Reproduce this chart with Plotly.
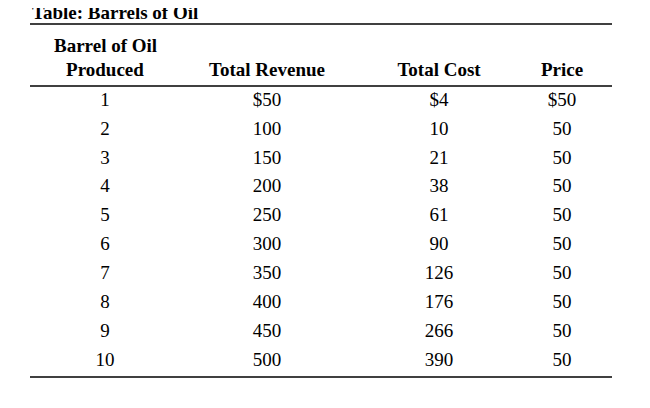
import plotly.graph_objects as go

title = "Table: Barrels of Oil"
headers = ["Produced", "Total Revenue", "Total Cost", "Price"]
header_top = "Barrel of Oil"
produced = ["1", "2", "3", "4", "5", "6", "7", "8", "9", "10"]
revenue = ["$50", "100", "150", "200", "250", "300", "350", "400", "450", "500"]
cost = ["$4", "10", "21", "38", "61", "90", "126", "176", "266", "390"]
price = ["$50", "50", "50", "50", "50", "50", "50", "50", "50", "50"]

col_x = [105, 267, 439, 562]
row_y0, row_dy = 101, 28.9
F = "Liberation Serif"

fig = go.Figure()
ys = [row_y0 + i * row_dy for i in range(len(produced))]
for cx, col in zip(col_x, [produced, revenue, cost, price]):
    fig.add_trace(go.Scatter(x=[cx] * len(col), y=ys, text=col, mode="text",
                             textfont=dict(family=F, size=19, color="black"),
                             hoverinfo="skip", showlegend=False))
fig.add_trace(go.Scatter(x=col_x, y=[71] * 4, text=["<b>%s</b>" % h for h in headers],
                         mode="text", textfont=dict(family=F, size=19, color="black"),
                         hoverinfo="skip", showlegend=False))
fig.add_annotation(x=col_x[0], y=45, text="<b>%s</b>" % header_top, showarrow=False,
                   font=dict(family=F, size=19, color="black"))
fig.add_annotation(x=30, y=12, text="<b>%s</b>" % title, showarrow=False, xanchor="left",
                   font=dict(family=F, size=19, color="black"))
for y in [24, 86, 377]:
    fig.add_shape(type="line", x0=30, x1=612, y0=y, y1=y, line=dict(color="black", width=1.3))

fig.update_xaxes(range=[8, 658], visible=False)
fig.update_yaxes(range=[416, 8], visible=False)
fig.update_layout(width=650, height=408, margin=dict(l=0, r=0, t=0, b=0),
                  plot_bgcolor="white", paper_bgcolor="white")
fig.write_html("out.html")
